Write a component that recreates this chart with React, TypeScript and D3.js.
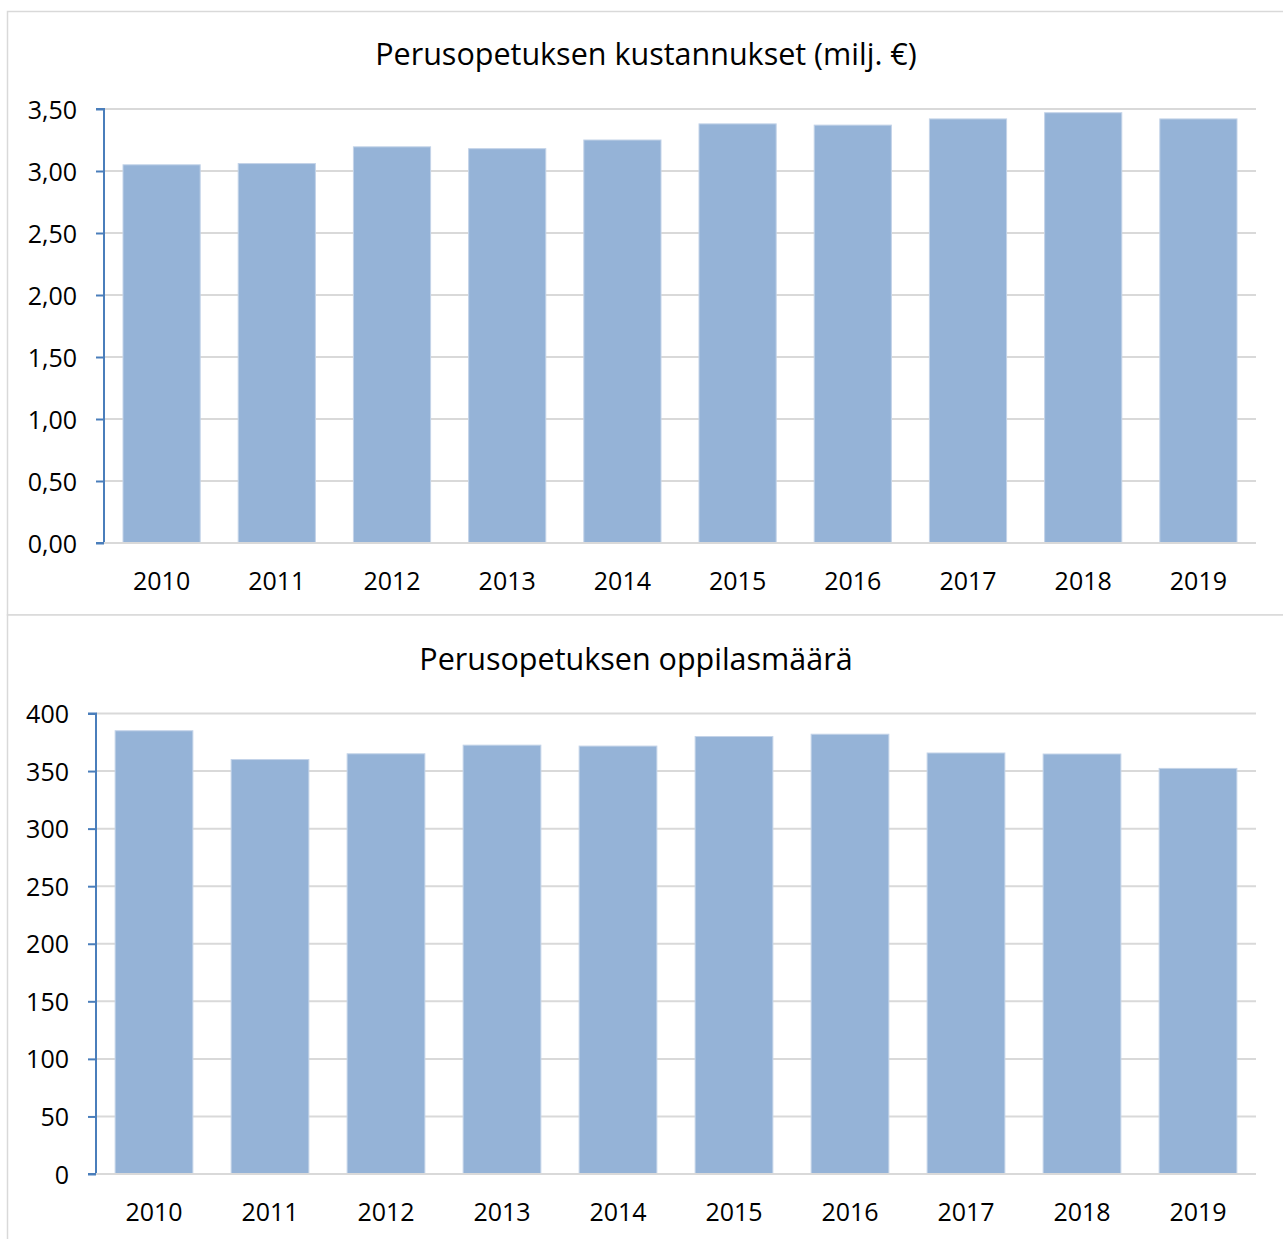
import React, { useRef, useEffect } from 'react';
import { select, scaleBand, scaleLinear, axisLeft, axisBottom } from 'd3';

const years = ['2010', '2011', '2012', '2013', '2014', '2015', '2016', '2017', '2018', '2019'];
const costs = [3.05, 3.06, 3.195, 3.18, 3.25, 3.38, 3.37, 3.42, 3.47, 3.42];
const pupils = [385, 360, 365, 372.5, 371.7, 380, 382, 365.7, 364.8, 352.3];
const costTicks = [0, 0.5, 1, 1.5, 2, 2.5, 3, 3.5];
const pupilTicks = [0, 50, 100, 150, 200, 250, 300, 350, 400];

const topTitle = 'Perusopetuksen kustannukset (milj. €)';
const bottomTitle = 'Perusopetuksen oppilasmäärä';

const FONT = '"Open Sans", sans-serif';
const BAR = '#95b3d7';
const GRID = '#d9d9d9';
const AXIS = '#4a7ebb';

function drawPanel(g, opts) {
  const { title, titleX, titleY, values, ticks, max, left, top, bottom, right, fmt } = opts;

  const x = scaleBand().domain(years).range([left, right]).paddingInner(0.33).paddingOuter(0.165);
  const y = scaleLinear().domain([0, max]).range([bottom, top]);

  g.append('text')
    .attr('x', titleX)
    .attr('y', titleY)
    .attr('text-anchor', 'middle')
    .attr('font-family', FONT)
    .attr('font-size', 30.5)
    .attr('fill', '#000')
    .text(title);

  // grid lines
  g.selectAll('.grid')
    .data(ticks)
    .join('line')
    .attr('class', 'grid')
    .attr('x1', left)
    .attr('x2', right)
    .attr('y1', (d) => y(d))
    .attr('y2', (d) => y(d))
    .attr('stroke', GRID)
    .attr('stroke-width', 2);

  g.selectAll('.bar')
    .data(values)
    .join('rect')
    .attr('class', 'bar')
    .attr('x', (d, i) => x(years[i]))
    .attr('y', (d) => y(d))
    .attr('width', x.bandwidth())
    .attr('height', (d) => bottom - y(d))
    .attr('fill', BAR)
    .attr('stroke', '#c3d3e8')
    .attr('stroke-width', 1);

  // y axis
  const yAxis = axisLeft(y).tickValues(ticks).tickSize(8).tickPadding(19).tickFormat(fmt);
  const ya = g.append('g').attr('transform', `translate(${left},0)`).call(yAxis);
  ya.select('.domain').attr('stroke', AXIS).attr('stroke-width', 2).attr('d', `M-8,${top}H0V${bottom}H-8`);
  ya.selectAll('.tick line').attr('stroke', AXIS).attr('stroke-width', 2);
  ya.selectAll('.tick text')
    .attr('font-family', FONT)
    .attr('font-size', 25)
    .attr('fill', '#000')
    .attr('dy', '0.36em');

  // x axis
  const xAxis = axisBottom(x).tickSize(0).tickPadding(28);
  const xa = g.append('g').attr('transform', `translate(0,${bottom})`).call(xAxis);
  xa.select('.domain').attr('stroke', GRID).attr('stroke-width', 2).attr('d', `M${left},0H${right}`);
  xa.selectAll('.tick text')
    .attr('font-family', FONT)
    .attr('font-size', 25)
    .attr('fill', '#000')
    .attr('dy', '0.75em');
}

export default function App() {
  const svgRef = useRef(null);

  useEffect(() => {
    const svg = select(svgRef.current);
    svg.selectAll('*').remove();

    // chart frames
    svg.append('rect')
      .attr('x', 7.5)
      .attr('y', 11.5)
      .attr('width', 1290)
      .attr('height', 603.5)
      .attr('fill', '#fff')
      .attr('stroke', GRID)
      .attr('stroke-width', 1.5);
    svg.append('rect')
      .attr('x', 7.5)
      .attr('y', 615)
      .attr('width', 1290)
      .attr('height', 640)
      .attr('fill', '#fff')
      .attr('stroke', GRID)
      .attr('stroke-width', 1.5);

    drawPanel(svg.append('g'), {
      title: topTitle,
      titleX: 646,
      titleY: 65,
      values: costs,
      ticks: costTicks,
      max: 3.5,
      left: 104,
      right: 1256,
      top: 109,
      bottom: 543,
      fmt: (d) => d.toFixed(2).replace('.', ','),
    });

    drawPanel(svg.append('g'), {
      title: bottomTitle,
      titleX: 636,
      titleY: 670,
      values: pupils,
      ticks: pupilTicks,
      max: 400,
      left: 96,
      right: 1256,
      top: 713.5,
      bottom: 1174,
      fmt: (d) => String(d),
    });
  }, []);

  return (
    <svg
      ref={svgRef}
      width={1283}
      height={1239}
      style={{ position: 'absolute', left: 0, top: 0, background: '#fff' }}
    />
  );
}
